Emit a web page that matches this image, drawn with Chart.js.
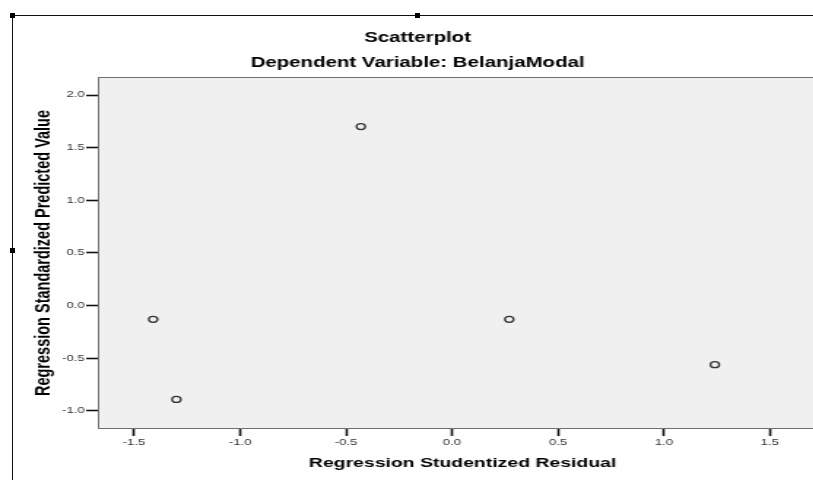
<!DOCTYPE html>
<html>
<head>
<meta charset="utf-8">
<script src="https://cdn.jsdelivr.net/npm/chart.js@4/dist/chart.umd.min.js"></script>
<style>
  body { margin: 0; background: #fff; }
  #wrap { position: relative; width: 813px; height: 480px; overflow: hidden; background: #fff; }
  /* the original chart was stretched sideways, so the canvas is too */
  #stretch { position: absolute; left: 0; top: 0; width: 572px; height: 480px; transform: scaleX(1.46); transform-origin: 0 0; }
  .line { position: absolute; background: #111; }
  .handle { position: absolute; width: 5px; height: 5px; background: #000; }
</style>
</head>
<body>
<div id="wrap">
  <div id="stretch"><canvas id="chart" width="572" height="480"></canvas></div>
  <div class="line" style="left:12px;top:15px;width:801px;height:1px"></div>
  <div class="line" style="left:12px;top:15px;width:1px;height:465px"></div>
  <div class="handle" style="left:10px;top:13px"></div>
  <div class="handle" style="left:415px;top:13px"></div>
  <div class="handle" style="left:10px;top:248px"></div>
</div>
<script>
const TITLE = "Scatterplot";
const SUBTITLE = "Dependent Variable: BelanjaModal";
const X_TITLE = "Regression Studentized Residual";
const Y_TITLE = "Regression Standardized Predicted Value";

const residuals = [-1.41, -1.30, -0.43, 0.27, 1.24];
const predicted = [-0.13, -0.89, 1.70, -0.13, -0.56];

const xTicks = [-1.5, -1.0, -0.5, 0.0, 0.5, 1.0, 1.5];
const yTicks = [-1.0, -0.5, 0.0, 0.5, 1.0, 1.5, 2.0];

const FONT = "'Liberation Sans', Arial, sans-serif";

const plotBg = {
  id: "plotBg",
  beforeDraw(chart) {
    const { ctx, chartArea: a } = chart;
    ctx.save();
    ctx.fillStyle = "#f0f0f0";
    ctx.fillRect(a.left, a.top, a.width, a.height);
    ctx.strokeStyle = "#707070";
    ctx.lineWidth = 1;
    ctx.strokeRect(a.left + 0.5, a.top + 0.5, a.width - 1, a.height - 1);
    ctx.restore();
  },
};

const points = residuals.map((x, i) => ({ x, y: predicted[i] }));

new Chart(document.getElementById("chart"), {
  type: "scatter",
  data: {
    datasets: [
      {
        data: points,
        pointStyle: "circle",
        pointRadius: 3,
        pointBorderWidth: 1.3,
        borderColor: "#333",
        backgroundColor: "rgba(0,0,0,0)",
      },
    ],
  },
  options: {
    responsive: false,
    animation: false,
    devicePixelRatio: 1,
    layout: { padding: 0 },
    plugins: {
      legend: { display: false },
      tooltip: { enabled: false },
      title: {
        display: true,
        text: TITLE,
        color: "#000",
        font: { family: FONT, size: 14, weight: "bold" },
        padding: { top: 29.6, bottom: 0 },
      },
      subtitle: {
        display: true,
        text: SUBTITLE,
        color: "#000",
        font: { family: FONT, size: 14, weight: "bold" },
        padding: { top: 8.2, bottom: 5.6 },
      },
    },
    scales: {
      x: {
        type: "linear",
        position: "bottom",
        min: -1.671,
        max: 1.771,
        afterBuildTicks: (s) => (s.ticks = xTicks.map((v) => ({ value: v }))),
        afterFit: (s) => (s.height = 51),
        ticks: {
          callback: (v) => Number(v).toFixed(1),
          font: { family: FONT, size: 9 },
          color: "#333",
          padding: 1.6,
          maxRotation: 0,
          autoSkip: false,
        },
        grid: {
          drawOnChartArea: false,
          drawTicks: true,
          tickLength: 7,
          tickWidth: 1.6,
          tickColor: "#111",
        },
        border: { display: false },
        title: {
          display: true,
          text: X_TITLE,
          color: "#000",
          font: { family: FONT, size: 13.3, weight: "bold" },
          padding: { top: 0, bottom: 8.2 },
        },
      },
      y: {
        type: "linear",
        position: "left",
        min: -1.171,
        max: 2.171,
        afterBuildTicks: (s) => (s.ticks = yTicks.map((v) => ({ value: v }))),
        afterFit: (s) => (s.width = 67),
        ticks: {
          callback: (v) => Number(v).toFixed(1),
          font: { family: FONT, size: 9 },
          color: "#333",
          padding: 1,
          autoSkip: false,
        },
        grid: {
          drawOnChartArea: false,
          drawTicks: true,
          tickLength: 8,
          tickWidth: 1.6,
          tickColor: "#111",
        },
        border: { display: false },
        title: {
          display: true,
          text: Y_TITLE,
          color: "#000",
          font: { family: FONT, size: 14.5, weight: "bold" },
          padding: { top: 20.8, bottom: 0 },
        },
      },
    },
  },
  plugins: [plotBg],
});
</script>
</body>
</html>
